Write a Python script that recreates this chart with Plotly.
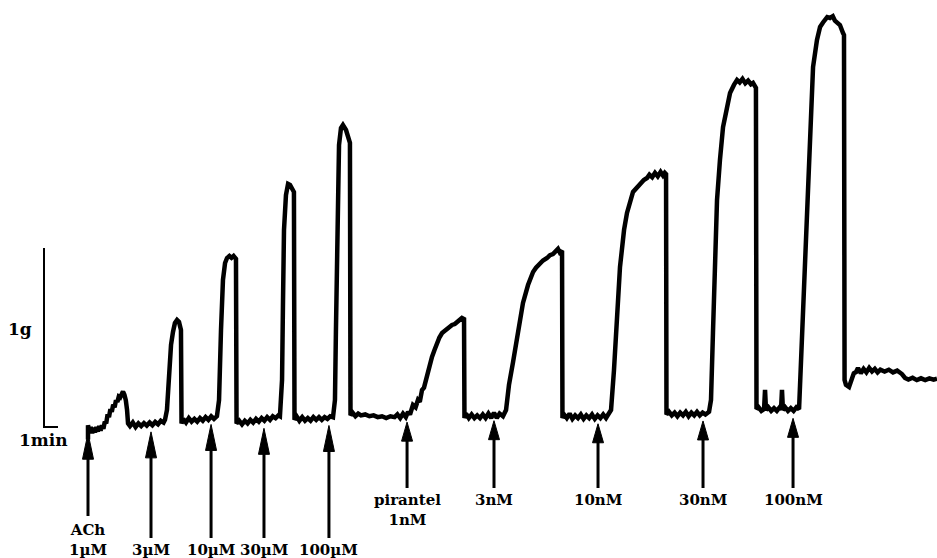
import numpy as np
import plotly.graph_objects as go

# Isometric contraction trace, split by addition: time (min) and tension (g)
ach_1uM_t = [0, 0, 0.1, 0.2, 0.3, 0.4, 0.5, 0.6, 0.7, 0.8, 0.9, 1.0, 1.1, 1.2, 1.3, 1.4, 1.5, 1.6,
             1.7, 1.8, 1.9, 2.0, 2.1, 2.2, 2.3, 2.4, 2.5, 2.6, 2.7, 2.79, 2.86, 3.0, 3.2, 3.4, 3.6,
             3.8, 4.0, 4.2, 4.4, 4.6, 4.8, 5.0, 5.2, 5.4, 5.5]
ach_1uM_g = [-0.07, 0.01, -0.03, 0.0, -0.035, -0.005, -0.03, 0.0, -0.025, 0.005, -0.02, 0.01,
             -0.01, 0.03, 0.02, 0.07, 0.055, 0.1, 0.085, 0.125, 0.11, 0.15, 0.14, 0.17, 0.165, 0.19,
             0.198, 0.18, 0.15, 0.095, 0.02, 0.005, 0.025, 0.0, 0.02, 0.005, 0.022, 0.008, 0.025,
             0.01, 0.028, 0.015, 0.035, 0.025, 0.04]

ach_3uM_t = [5.64, 5.79, 5.93, 6.07, 6.21, 6.36, 6.5, 6.64, 6.68, 6.8, 7.0, 7.2, 7.4, 7.6, 7.8,
             8.0, 8.2, 8.4, 8.6, 8.8, 9.0, 9.21]
ach_3uM_g = [0.095, 0.318, 0.458, 0.531, 0.581, 0.598, 0.587, 0.542, 0.02, 0.045, 0.025, 0.05,
             0.03, 0.045, 0.03, 0.05, 0.035, 0.055, 0.04, 0.06, 0.045, 0.06]

ach_10uM_t = [9.36, 9.5, 9.64, 9.79, 9.93, 10.1, 10.25, 10.4, 10.57, 10.61, 10.8, 11.0, 11.2,
              11.4, 11.6, 11.8, 12.0, 12.2, 12.4, 12.6, 12.8, 13.0, 13.2, 13.4, 13.6, 13.71]
ach_10uM_g = [0.151, 0.542, 0.821, 0.916, 0.944, 0.955, 0.945, 0.955, 0.939, 0.02, 0.035, 0.015,
              0.035, 0.02, 0.04, 0.025, 0.045, 0.03, 0.05, 0.035, 0.055, 0.04, 0.06, 0.05, 0.065,
              0.06]

ach_30uM_t = [13.86, 13.93, 14.0, 14.14, 14.29, 14.43, 14.64, 14.71, 14.75, 14.9, 15.1, 15.3,
              15.5, 15.7, 15.9, 16.1, 16.3, 16.5, 16.7, 16.9, 17.1, 17.3, 17.5]
ach_30uM_g = [0.263, 0.709, 1.101, 1.296, 1.358, 1.352, 1.324, 1.313, 0.04, 0.06, 0.035, 0.055,
              0.035, 0.05, 0.035, 0.055, 0.04, 0.055, 0.04, 0.055, 0.045, 0.06, 0.055]

ach_100uM_t = [17.64, 17.71, 17.79, 17.86, 17.93, 18.07, 18.21, 18.43, 18.64, 18.71, 18.75, 18.9,
               19.1, 19.3, 19.5, 19.8, 20.1, 20.4, 20.7, 21.0, 21.3, 21.6, 21.9, 22.1, 22.3, 22.5,
               22.7, 22.86]
ach_100uM_g = [0.151, 0.542, 0.989, 1.380, 1.575, 1.670, 1.687, 1.659, 1.603, 1.587, 0.065, 0.08,
               0.06, 0.075, 0.065, 0.07, 0.06, 0.065, 0.055, 0.06, 0.05, 0.06, 0.055, 0.07, 0.05,
               0.075, 0.055, 0.085]

pir_1nM_t = [23.0, 23.21, 23.4, 23.57, 23.7, 23.86, 24.0, 24.21, 24.4, 24.57, 24.75, 24.93, 25.1,
             25.29, 25.45, 25.64, 25.8, 26.0, 26.2, 26.36, 26.5, 26.71, 26.86, 26.89, 27.0, 27.2,
             27.4, 27.6, 27.8, 28.0, 28.2, 28.4, 28.6, 28.8, 29.0, 29.2, 29.4, 29.64]
pir_1nM_g = [0.07, 0.123, 0.11, 0.151, 0.14, 0.207, 0.22, 0.291, 0.33, 0.391, 0.43, 0.475, 0.5,
             0.525, 0.535, 0.553, 0.56, 0.570, 0.575, 0.587, 0.595, 0.609, 0.603, 0.05, 0.075, 0.05,
             0.07, 0.05, 0.065, 0.05, 0.07, 0.05, 0.075, 0.05, 0.08, 0.05, 0.075, 0.06]

pir_3nM_t = [29.86, 30.07, 30.36, 30.71, 31.07, 31.43, 31.79, 32.0, 32.29, 32.5, 32.79, 33.0,
             33.21, 33.4, 33.57, 33.7, 33.86, 33.89, 34.0, 34.2, 34.4, 34.6, 34.8, 35.0, 35.2, 35.4,
             35.6, 35.8, 36.0, 36.2, 36.4, 36.6, 36.8, 37.0, 37.14]
pir_3nM_g = [0.095, 0.235, 0.363, 0.542, 0.693, 0.793, 0.866, 0.89, 0.916, 0.93, 0.944, 0.96,
             0.966, 0.98, 0.995, 0.975, 0.985, 0.05, 0.07, 0.05, 0.075, 0.045, 0.065, 0.05, 0.07,
             0.045, 0.065, 0.05, 0.07, 0.045, 0.065, 0.05, 0.07, 0.05, 0.065]

pir_10nM_t = [37.36, 37.57, 37.79, 38.0, 38.29, 38.5, 38.93, 39.2, 39.43, 39.7, 39.93, 40.1, 40.3,
              40.5, 40.7, 40.9, 41.07, 41.2, 41.29, 41.32, 41.5, 41.7, 41.9, 42.1, 42.3, 42.5,
              42.7, 42.9, 43.1, 43.3, 43.5, 43.7, 43.9, 44.1, 44.36]
pir_10nM_g = [0.095, 0.318, 0.598, 0.894, 1.101, 1.196, 1.313, 1.34, 1.363, 1.38, 1.391, 1.41,
              1.395, 1.42, 1.40, 1.425, 1.405, 1.42, 1.413, 0.07, 0.085, 0.065, 0.08, 0.06, 0.08,
              0.065, 0.085, 0.06, 0.08, 0.065, 0.085, 0.065, 0.08, 0.07, 0.085]

pir_30nM_t = [44.5, 44.64, 44.79, 44.93, 45.14, 45.36, 45.64, 45.86, 46.14, 46.36, 46.55, 46.75,
              46.95, 47.15, 47.35, 47.5, 47.71, 47.75, 47.9, 48.1, 48.29, 48.36, 48.43, 48.6, 48.8,
              49.0, 49.2, 49.4, 49.5, 49.57, 49.64, 49.8, 50.0, 50.2, 50.4, 50.6, 50.79]
pir_30nM_g = [0.151, 0.525, 0.933, 1.268, 1.492, 1.676, 1.782, 1.866, 1.911, 1.939, 1.925, 1.945,
              1.92, 1.935, 1.915, 1.922, 1.894, 0.1, 0.11, 0.09, 0.1, 0.207, 0.095, 0.11, 0.09,
              0.105, 0.09, 0.11, 0.095, 0.207, 0.095, 0.11, 0.09, 0.105, 0.09, 0.11, 0.1]

pir_100nM_t = [50.93, 51.07, 51.21, 51.36, 51.5, 51.57, 51.79, 52.07, 52.29, 52.5, 52.64, 52.8,
               53.0, 53.2, 53.35, 53.5, 53.71, 53.93, 54.0, 54.04, 54.14, 54.36, 54.5, 54.57, 54.7,
               54.86, 55.0, 55.2, 55.4, 55.6, 55.8, 56.0, 56.2, 56.4, 56.6, 56.9, 57.2, 57.5, 57.8,
               58.14, 58.36, 58.6, 58.9, 59.2, 59.5, 59.8, 60.1, 60.4, 60.64]
pir_100nM_g = [0.374, 0.709, 0.989, 1.268, 1.547, 1.732, 2.011, 2.162, 2.235, 2.26, 2.274, 2.29,
               2.285, 2.295, 2.27, 2.263, 2.246, 2.201, 2.190, 0.263, 0.235, 0.223, 0.26, 0.274, 0.3,
               0.307, 0.33, 0.3, 0.325, 0.305, 0.33, 0.31, 0.325, 0.305, 0.32, 0.31, 0.32, 0.305,
               0.315, 0.296, 0.274, 0.265, 0.275, 0.262, 0.272, 0.262, 0.272, 0.265, 0.27]

segments_t = [ach_1uM_t, ach_3uM_t, ach_10uM_t, ach_30uM_t, ach_100uM_t,
              pir_1nM_t, pir_3nM_t, pir_10nM_t, pir_30nM_t, pir_100nM_t]
segments_g = [ach_1uM_g, ach_3uM_g, ach_10uM_g, ach_30uM_g, ach_100uM_g,
              pir_1nM_g, pir_3nM_g, pir_10nM_g, pir_30nM_g, pir_100nM_g]
time_min = [v for seg in segments_t for v in seg]
tension_g = [v for seg in segments_g for v in seg]

# Drug additions (min) and their labels
dose_time = [0, 4.5, 8.79, 12.57, 17.21, 22.79, 29.0, 36.43, 43.93, 50.36]
dose_label = ["ACh<br>1µM", "3µM", "10µM", "30µM", "100µM",
              "pirantel<br>1nM", "3nM", "10nM", "30nM", "100nM"]
dose_group = ["ACh"] * 5 + ["pirantel"] * 5

# Page geometry: pixels per unit
W, H = 937, 558
PX_PER_MIN = 14.0
PX_PER_G = 179.0
X0_PX, Y0_PX = 88.0, 427.0          # pixel position of t = 0 min, tension = 0 g


def dx(px):
    return px / PX_PER_MIN


def dy(px):
    return px / PX_PER_G


def ypos(py):
    return (Y0_PX - py) / PX_PER_G


def xpos(px):
    return (px - X0_PX) / PX_PER_MIN


x_range = [xpos(0), xpos(W)]
y_range = [ypos(H), ypos(0)]

LABEL_FONT = dict(family="DejaVu Serif", size=15, color="black", weight="bold")
SCALE_FONT = dict(family="DejaVu Serif", size=17, color="black", weight="bold")

fig = go.Figure()

fig.add_trace(go.Scatter(
    x=time_min, y=tension_g, mode="lines",
    line=dict(color="black", width=4.5, shape="linear"),
    hoverinfo="skip", showlegend=False,
))

# Arrows under the trace marking each addition
tri_x, tri_y = [], []
shapes = []
annotations = []
for t, lab, grp in zip(dose_time, dose_label, dose_group):
    n_lines = lab.count("<br>") + 1
    tip = float(np.interp(t, time_min, tension_g)) - dy(8)
    if grp == "ACh":
        head = dy(26)
        end = ypos(560 - 22 * n_lines)
        lab_y, lab_anchor, shift = ypos(556), "bottom", -5
    else:
        head = dy(19)
        end = ypos(488)
        lab_y, lab_anchor, shift = ypos(489), "top", 0
    half = dx(5.5)
    tri_x += [t - half, t, t + half, t - half, None]
    tri_y += [tip - head, tip, tip - head, tip - head, None]
    shapes.append(dict(type="line", xref="x", yref="y", x0=t, x1=t,
                       y0=tip - head + dy(1), y1=end,
                       line=dict(color="black", width=3)))
    annotations.append(dict(x=t, y=lab_y, xref="x", yref="y", text=lab,
                            showarrow=False, xanchor="center", yanchor=lab_anchor,
                            yshift=shift, font=LABEL_FONT, align="center"))

fig.add_trace(go.Scatter(
    x=tri_x, y=tri_y, mode="lines", fill="toself", fillcolor="black",
    line=dict(color="black", width=1), hoverinfo="skip", showlegend=False,
))

# Calibration bar: 1 g vertical, 1 min horizontal
bar_t = xpos(44)
shapes.append(dict(type="path", xref="x", yref="y",
                   path=f"M {bar_t},{1.0} L {bar_t},{0.0} L {bar_t + 1.0},{0.0}",
                   line=dict(color="black", width=2)))
annotations.append(dict(x=xpos(20), y=ypos(329), xref="x", yref="y", text="1g",
                        showarrow=False, xanchor="center", yanchor="middle", font=SCALE_FONT))
annotations.append(dict(x=xpos(43), y=ypos(440), xref="x", yref="y", text="1min",
                        showarrow=False, xanchor="center", yanchor="middle", font=SCALE_FONT))

fig.update_layout(
    width=W, height=H, autosize=False,
    margin=dict(l=0, r=0, t=0, b=0),
    paper_bgcolor="white", plot_bgcolor="white",
    xaxis=dict(range=x_range, visible=False, fixedrange=True),
    yaxis=dict(range=y_range, visible=False, fixedrange=True),
    shapes=shapes, annotations=annotations,
    showlegend=False,
)

fig.write_html("out.html")
